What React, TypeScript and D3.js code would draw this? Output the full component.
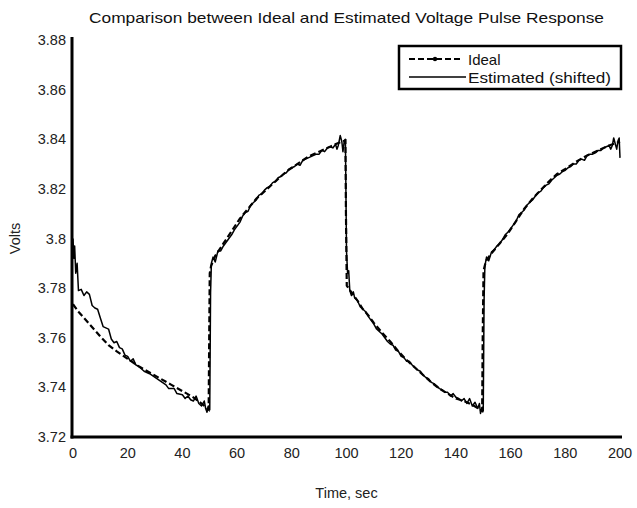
import React from "react";
import * as d3 from "d3";

const title = "Comparison between Ideal and Estimated Voltage Pulse Response";
const xLabel = "Time, sec";
const yLabel = "Volts";
const xTicks = [0, 20, 40, 60, 80, 100, 120, 140, 160, 180, 200];
const yTicks = [3.72, 3.74, 3.76, 3.78, 3.8, 3.82, 3.84, 3.86, 3.88];
const seriesNames = ["Ideal", "Estimated (shifted)"];

// Ideal pulse response [time, volts]
const idealT = [
  0, 2, 4, 6, 8, 10, 13, 16, 20, 24, 28, 32, 36, 40, 44, 47, 49.6,
  49.8, 50, 50.5, 52, 55, 58, 61, 64, 67, 70, 74, 78, 82, 86, 90, 94, 97, 99.6,
  99.8, 100.1, 102, 104, 106, 108, 110, 113, 116, 119, 122, 125, 128, 131, 134, 137, 140, 143, 146, 149.6,
  149.8, 150.1, 151, 153, 156, 159, 162, 165, 168, 171, 174, 177, 180, 184, 188, 192, 196, 200,
];
const idealV = [
  3.7735, 3.7705, 3.768, 3.7655, 3.763, 3.7605, 3.757, 3.7545, 3.7515, 3.7485, 3.746, 3.7435, 3.741, 3.7385, 3.736, 3.7335, 3.731,
  3.76, 3.786, 3.789, 3.793, 3.798, 3.803, 3.808, 3.812, 3.816, 3.819, 3.823, 3.827, 3.83, 3.833, 3.835, 3.837, 3.8385, 3.8395,
  3.81, 3.781, 3.778, 3.775, 3.7715, 3.769, 3.766, 3.762, 3.7585, 3.7545, 3.751, 3.748, 3.745, 3.742, 3.7395, 3.7375, 3.7355, 3.7345, 3.733, 3.7305,
  3.76, 3.787, 3.791, 3.794, 3.798, 3.802, 3.807, 3.812, 3.816, 3.8195, 3.823, 3.826, 3.828, 3.831, 3.8335, 3.8355, 3.8375, 3.839,
];

// Estimated (shifted) response [time, volts]
const estT = [
  0, 0.3, 0.6, 1, 1.5, 2, 3, 4, 5, 6, 7, 8, 9, 10, 11, 12, 13, 14, 15, 16, 17, 18, 19, 20, 21, 22, 23, 24, 26, 28, 30, 32, 34, 35, 37, 38, 40, 41, 42, 43, 44, 45, 46, 47, 48, 48.5, 49, 49.5, 50,
  50.3, 50.6, 51.2, 52, 53, 54, 55, 56, 57, 58, 59, 60, 61, 62, 63, 64, 65, 66, 67, 68, 69, 70, 71, 72, 73, 74, 75, 76, 77, 78, 79, 80, 81, 82, 83, 84, 85, 86, 87, 88, 89, 90, 91, 92, 93, 94, 95, 96, 96.5, 97, 97.7, 98.3, 98.7, 99.2, 99.6,
  100, 100.4, 100.8, 101.2, 101.8, 102.5, 103, 104, 105, 106, 107, 108, 109, 110, 111, 112, 113, 114, 115, 116, 117, 118, 119, 120, 121, 122, 123, 124, 125, 126, 127, 128, 129, 130, 131, 132, 133, 134, 135, 136, 137, 138, 139, 140, 141, 142, 143, 144, 145, 146, 147, 148, 148.6, 149, 149.6, 150,
  150.3, 150.6, 151.2, 152, 153, 154, 155, 156, 157, 158, 159, 160, 161, 162, 163, 164, 165, 166, 167, 168, 169, 170, 171, 172, 173, 174, 175, 176, 177, 178, 179, 180, 181, 182, 183, 184, 185, 186, 187, 188, 189, 190, 191, 192, 193, 194, 195, 196, 196.6, 197.2, 197.7, 198.3, 198.8, 199.3, 199.7, 200,
];
const estV = [
  3.8, 3.792, 3.797, 3.786, 3.79, 3.779, 3.7795, 3.777, 3.7785, 3.7775, 3.773, 3.772, 3.7715, 3.768, 3.7645, 3.764, 3.7635, 3.7595, 3.758, 3.7585, 3.756, 3.7555, 3.753, 3.7525, 3.7505, 3.7515, 3.749, 3.7485, 3.7465, 3.7455, 3.744, 3.7425, 3.741, 3.7395, 3.7395, 3.7375, 3.737, 3.7355, 3.7365, 3.735, 3.7345, 3.7365, 3.7335, 3.7325, 3.7345, 3.7315, 3.73, 3.7325, 3.731,
  3.778, 3.79, 3.7925, 3.7905, 3.795, 3.795, 3.797, 3.7985, 3.8, 3.8015, 3.8035, 3.805, 3.8065, 3.809, 3.8105, 3.811, 3.8135, 3.8145, 3.8155, 3.8175, 3.818, 3.8195, 3.8205, 3.821, 3.8225, 3.823, 3.8245, 3.825, 3.826, 3.8265, 3.828, 3.8285, 3.829, 3.83, 3.8295, 3.8315, 3.832, 3.8325, 3.833, 3.8335, 3.834, 3.834, 3.8355, 3.835, 3.8365, 3.837, 3.8365, 3.838, 3.836, 3.8375, 3.8415, 3.839, 3.835, 3.8395, 3.84,
  3.795, 3.786, 3.787, 3.779, 3.777, 3.7785, 3.776, 3.775, 3.7725, 3.7715, 3.7705, 3.7685, 3.767, 3.7655, 3.7635, 3.7625, 3.7615, 3.76, 3.7585, 3.7575, 3.757, 3.755, 3.7545, 3.7525, 3.752, 3.7505, 3.7505, 3.749, 3.748, 3.747, 3.7465, 3.745, 3.744, 3.7435, 3.742, 3.7415, 3.7405, 3.7395, 3.739, 3.738, 3.738, 3.7365, 3.7375, 3.736, 3.7355, 3.7345, 3.7355, 3.7335, 3.7355, 3.7325, 3.734, 3.7315, 3.7335, 3.7295, 3.732, 3.7305,
  3.775, 3.789, 3.7925, 3.791, 3.7945, 3.7955, 3.797, 3.798, 3.7995, 3.8015, 3.8025, 3.804, 3.8055, 3.807, 3.8095, 3.8105, 3.8115, 3.8135, 3.8145, 3.8155, 3.817, 3.8185, 3.819, 3.8205, 3.8215, 3.822, 3.8235, 3.8245, 3.8255, 3.826, 3.827, 3.8275, 3.8285, 3.829, 3.83, 3.83, 3.8315, 3.832, 3.8315, 3.8335, 3.834, 3.834, 3.8345, 3.8355, 3.8355, 3.8365, 3.837, 3.8375, 3.836, 3.8375, 3.8405, 3.838, 3.836, 3.8395, 3.8405, 3.8325,
];

const W = 637;
const H = 508;
const M = { left: 73, right: 620, top: 40, bottom: 437 };
const FONT = "'Liberation Sans', Arial, sans-serif";

export default function App() {
  const x = d3.scaleLinear().domain([0, 200]).range([M.left, M.right]);
  const y = d3.scaleLinear().domain([3.72, 3.88]).range([M.bottom, M.top]);

  const line = d3
    .line<[number, number]>()
    .x((d) => x(d[0]))
    .y((d) => y(d[1]));

  const ideal: [number, number][] = idealT.map((t, i) => [t, idealV[i]]);
  const est: [number, number][] = estT.map((t, i) => [t, estV[i]]);

  const lg = { x0: 399, y0: 46, x1: 621, y1: 89 };
  const row1 = 59;
  const row2 = 77;

  return (
    <svg
      width={W}
      height={H}
      viewBox={`0 0 ${W} ${H}`}
      style={{ position: "absolute", left: 0, top: 0, background: "#fff" }}
      fontFamily={FONT}
    >
      <rect x={0} y={0} width={W} height={H} fill="#fff" />
      {/* title */}
      <text
        x={(M.left + M.right) / 2}
        y={23}
        textAnchor="middle"
        fontSize={15}
        textLength={515}
        lengthAdjust="spacingAndGlyphs"
        fill="#111"
      >
        {title}
      </text>

      {/* curves */}
      <path
        d={line(ideal) || ""}
        fill="none"
        stroke="#000"
        strokeWidth={2.2}
        strokeDasharray="6,3"
      />
      <path d={line(est) || ""} fill="none" stroke="#000" strokeWidth={1.5} strokeLinejoin="round" />

      {/* axes */}
      <line x1={M.left - 1} x2={M.left - 1} y1={M.top - 3} y2={M.bottom + 1.5} stroke="#000" strokeWidth={3} />
      <line x1={M.left - 2.5} x2={M.right + 2} y1={M.bottom} y2={M.bottom} stroke="#000" strokeWidth={3} />

      {yTicks.map((v) => (
        <text
          key={v}
          x={M.left - 7}
          y={y(v)}
          textAnchor="end"
          dominantBaseline="central"
          fontSize={14.5}
          fill="#222"
        >
          {d3.format("")(+v.toFixed(2))}
        </text>
      ))}
      {xTicks.map((v) => (
        <text
          key={v}
          x={x(v)}
          y={M.bottom + 16}
          textAnchor="middle"
          dominantBaseline="central"
          fontSize={14.5}
          fill="#222"
        >
          {v}
        </text>
      ))}

      <text x={(M.left + M.right) / 2} y={498} textAnchor="middle" fontSize={14.5} fill="#222">
        {xLabel}
      </text>
      <text
        transform={`translate(20, ${(M.top + M.bottom) / 2}) rotate(-90)`}
        textAnchor="middle"
        fontSize={14.5}
        fill="#222"
      >
        {yLabel}
      </text>

      {/* legend */}
      <rect x={lg.x0} y={lg.y0} width={lg.x1 - lg.x0} height={lg.y1 - lg.y0} fill="#fff" stroke="#000" strokeWidth={2.5} />
      <line x1={lg.x0 + 10} x2={lg.x0 + 62} y1={row1} y2={row1} stroke="#000" strokeWidth={2.2} strokeDasharray="6,3" />
      <circle cx={lg.x0 + 36} cy={row1} r={2.2} fill="#000" />
      <text x={lg.x0 + 69} y={row1} dominantBaseline="central" fontSize={15} fill="#111">
        {seriesNames[0]}
      </text>
      <line x1={lg.x0 + 10} x2={lg.x0 + 67} y1={row2} y2={row2} stroke="#000" strokeWidth={1.4} />
      <text
        x={lg.x0 + 69}
        y={row2}
        dominantBaseline="central"
        fontSize={15}
        textLength={143}
        lengthAdjust="spacingAndGlyphs"
        fill="#111"
      >
        {seriesNames[1]}
      </text>
    </svg>
  );
}
